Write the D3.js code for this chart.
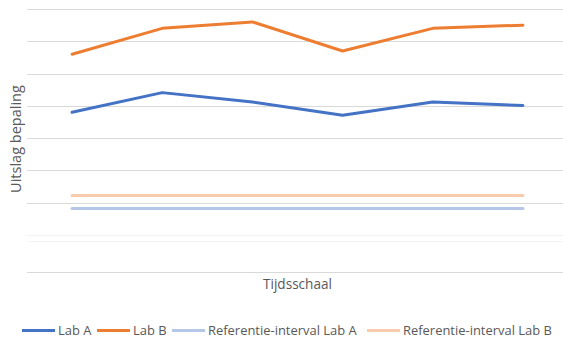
<!DOCTYPE html>
<html>
<head>
<meta charset="utf-8">
<script src="https://cdn.jsdelivr.net/npm/d3@7"></script>
<style>
html,body{margin:0;padding:0;background:#fff;}
svg{display:block;}
text{font-family:"Open Sans",sans-serif;fill:#595959;}
</style>
</head>
<body>
<svg id="chart" width="563" height="340"></svg>
<script>
const categories = ["t1","t2","t3","t4","t5","t6"];
const labA = [4.80, 5.41, 5.12, 4.71, 5.12, 5.01];
const labB = [6.60, 7.40, 7.60, 6.70, 7.40, 7.50];
const refA = [1.82, 1.82, 1.82, 1.82, 1.82, 1.82];
const refB = [2.22, 2.22, 2.22, 2.22, 2.22, 2.22];
const gridValues = [1, 2, 3, 4, 5, 6, 7, 8];
const seriesNames = ["Lab A", "Lab B", "Referentie-interval Lab A", "Referentie-interval Lab B"];
const colors = ["#4472C4", "#ED7D31", "#B4C7E7", "#F8CBAD"];

(function () {
const svg = d3.select("#chart");
const pLeft = 27, pRight = 568, pTop = 9, gridBottom = 235, axisY = 272;

const x = d3.scaleBand().domain(categories).range([pLeft, pRight]);
const y = d3.scaleLinear().domain([1, 8]).range([gridBottom, pTop]);

function fit(sel, base, target) {
  sel.attr("font-size", base);
  const w = sel.node().getComputedTextLength();
  if (w > 0) sel.attr("font-size", base * target / w);
  return sel;
}

svg.append("g").selectAll("line").data(gridValues).join("line")
  .attr("x1", pLeft).attr("x2", pRight)
  .attr("y1", d => Math.round(y(d)) + 0.5).attr("y2", d => Math.round(y(d)) + 0.5)
  .attr("stroke", d => d === 1 ? "#F2F2F2" : "#D9D9D9").attr("stroke-width", 1);
svg.append("line").attr("x1", pLeft).attr("x2", pRight)
  .attr("y1", 241.5).attr("y2", 241.5).attr("stroke", "#F4F4F4");
svg.append("line").attr("x1", pLeft).attr("x2", pRight)
  .attr("y1", axisY + 0.5).attr("y2", axisY + 0.5).attr("stroke", "#D9D9D9");

const allSeries = [labA, labB, refA, refB];
const line = d3.line().x((d, i) => x(categories[i]) + x.bandwidth() / 2).y(d => y(d));

[2, 3, 0, 1].forEach(k => {
  svg.append("path").datum(allSeries[k])
    .attr("d", line)
    .attr("fill", "none")
    .attr("stroke", colors[k])
    .attr("stroke-width", 3)
    .attr("stroke-linejoin", "round")
    .attr("stroke-linecap", "round");
});

const yl = svg.append("text").attr("transform", "translate(20.5,139) rotate(-90)")
  .attr("text-anchor", "middle").text("Uitslag bepaling");
fit(yl, 13, 108);
const xl = svg.append("text").attr("x", 297.5).attr("y", 289)
  .attr("text-anchor", "middle").text("Tijdsschaal");
fit(xl, 13, 69);

const legendX = [22, 97, 172, 367];
const lg = svg.append("g");
let legendSize = 12;
const probe = lg.append("text").text(seriesNames[3]);
fit(probe, 12, 149);
legendSize = +probe.attr("font-size");
probe.remove();
seriesNames.forEach((name, i) => {
  lg.append("line").attr("x1", legendX[i]).attr("x2", legendX[i] + 33)
    .attr("y1", 330.5).attr("y2", 330.5).attr("stroke", colors[i]).attr("stroke-width", 3);
  lg.append("text").attr("x", legendX[i] + 36).attr("y", 335)
    .attr("font-size", legendSize).text(name);
});
})();
</script>
</body>
</html>
